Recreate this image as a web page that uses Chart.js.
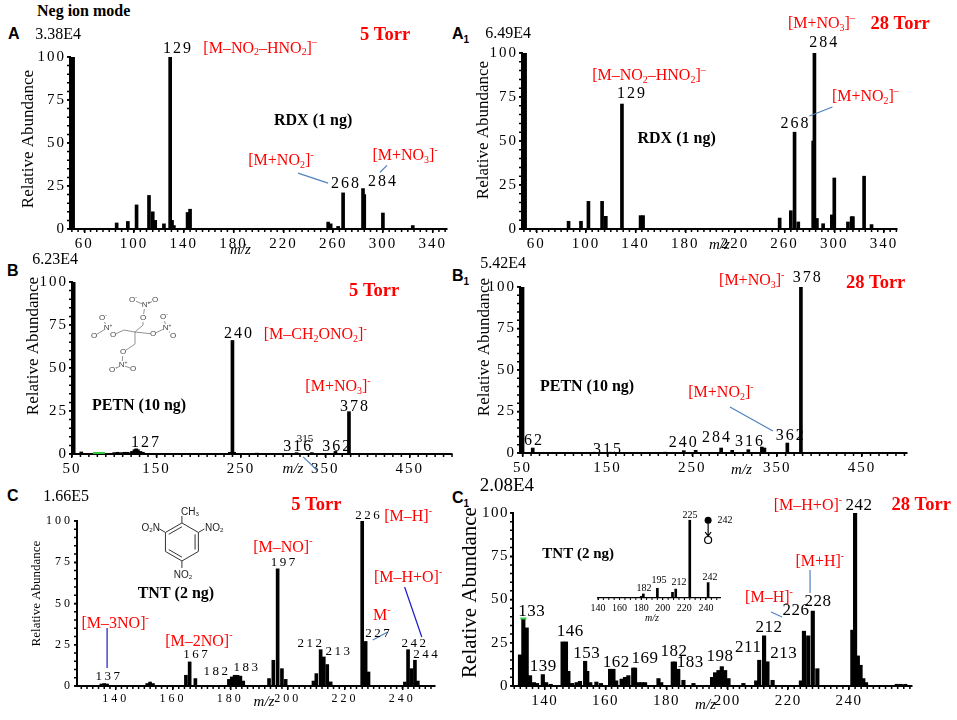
<!DOCTYPE html>
<html>
<head>
<meta charset="utf-8">
<script src="https://cdn.jsdelivr.net/npm/chart.js@4.4.1/dist/chart.umd.min.js"></script>
<style>
  body { margin: 0; width: 957px; height: 720px; overflow: hidden; position: relative; background: #fff; }
  canvas { position: absolute; }
  .tag { position: absolute; font: bold 16px "Liberation Sans", Arial, sans-serif; line-height: 16px; }
  .tag sub { font-size: 10px; }
  #neg { position: absolute; left: 37px; top: 3px; font: bold 16px "Liberation Serif", serif; line-height: 16px; }
</style>
</head>
<body>
<div id="neg">Neg ion mode</div>
<div class="tag" style="left:8px;top:26px">A</div>
<div class="tag" style="left:452px;top:26px">A<sub>1</sub></div>
<div class="tag" style="left:7px;top:263px">B</div>
<div class="tag" style="left:452px;top:268px">B<sub>1</sub></div>
<div class="tag" style="left:7px;top:488px">C</div>
<div class="tag" style="left:452px;top:490px">C<sub>1</sub></div>
<script>
// tick labels
const yTicks = [0, 25, 50, 75, 100];
const ticksRDX = [60, 100, 140, 180, 220, 260, 300, 340];
const ticksPETN = [50, 150, 250, 350, 450];
const ticksTNT = [140, 160, 180, 200, 220, 240];

// peaks: [m/z, relative abundance %]
const peaksA = [[49, 100], [50, 100], [51, 100], [86, 3.5], [95, 4.4], [102, 14], [112, 19.5], [115, 10], [117, 5],
  [124, 3], [129, 100], [130.5, 5], [132, 2], [143, 9.6], [145, 11.5], [256, 4], [258, 3], [264, 1.5], [268, 21],
  [284, 23.5], [285, 20], [300, 9.3], [324, 2]];
const peaksA1 = [[49, 100], [50, 100], [51, 100], [86, 4.4], [96, 4.4], [102, 15.7], [113, 15.7], [116, 7.2], [129, 71],
  [144, 7.6], [146, 7.6], [256, 6.2], [265, 10.4], [268, 55], [271, 4], [283, 50], [284, 100], [286, 6], [291, 3],
  [298, 8], [300, 29], [311, 4], [314, 7], [315, 7], [324, 30], [330, 2.5]];
const peaksB = [[50, 100], [51, 100], [52, 100], [61, 1.2], [100, 0.8], [104, 1], [108, 0.8], [112, 1], [116, 1],
  [121, 1.5], [124, 2.5], [126, 3], [128, 2.5], [131, 1.5], [134, 1], [237, 1], [240, 66], [242, 1], [269, 0.5],
  [316, 0.8], [334, 0.8], [362, 1.5], [378, 24.6]];
const peaksB1 = [[48, 100], [49, 100], [50, 100], [62, 3], [153, 0.5], [218, 0.5], [240, 1.4], [254, 1.6], [284, 3],
  [297, 1.6], [316, 2], [332, 3.6], [335, 3], [362, 6], [378, 100]];
const peaksC = [[135, 1.2], [136, 1.5], [137, 1.2], [151, 1.5], [152, 2.4], [153, 1.5], [164.5, 6.5], [165.8, 14.6],
  [167.8, 4.5], [179.5, 4], [180.5, 5.5], [181.5, 6.5], [182.5, 6.5], [183.5, 6], [184.5, 3], [193.5, 4.5], [195, 15.6],
  [196.5, 71], [198, 10.5], [199.3, 4], [209, 3], [210, 7.5], [211.5, 22], [212.6, 17.6], [213.8, 13], [215, 2.5],
  [226, 100], [227.2, 27], [228.2, 8.5], [240.9, 2.4], [242, 22], [243.2, 10.5], [244.4, 15.6], [245.4, 3]];
const peaksC1 = [[131.9, 18], [133, 38.7], [134.1, 33.6], [135.2, 6], [136.5, 2], [137.5, 1.5], [139.4, 6.6], [140.5, 2],
  [142, 1], [145.9, 25.5], [147, 25.5], [147.8, 8.5], [149, 1.5], [150.5, 2], [151.6, 2.7], [153.3, 14.3], [154, 8.5],
  [155, 2], [157, 2.3], [158.5, 1.5], [161.5, 9.7], [162.6, 9.7], [163.5, 3], [165.3, 4], [166.4, 5], [167.5, 6],
  [169.1, 10.4], [169.7, 10.4], [171, 2], [172, 2], [173, 2], [177.4, 4.3], [178.3, 2], [182.1, 13.9], [182.8, 13.9],
  [183.9, 9.7], [185.6, 3.3], [188.9, 1.5], [195, 5], [196, 7.7], [197.1, 9], [198.2, 11.2], [199.3, 9], [200.4, 4.3],
  [205.3, 1.5], [209.5, 3], [210.5, 14.9], [212.1, 29], [213.2, 14], [214.9, 3.3], [224.2, 3], [225.2, 31.7],
  [226.6, 29], [228.1, 43.3], [229.6, 10], [241.1, 32.3], [242, 100], [242.9, 17.4], [243.8, 12], [244.7, 4.3],
  [245.6, 2], [255.7, 1], [257, 1], [258.5, 1]];
const peaksInset = [[180, 2], [182, 5], [195, 12], [209, 7], [212, 11], [225, 96], [242, 19]];

const SERIF = '"Liberation Serif", "Times New Roman", serif';
const SANS = '"Liberation Sans", Arial, sans-serif';
const RED = '#ff0000';
const BLUE = '#4f81bd';
const DARKBLUE = '#1a1acc';

function font(size, weight, family, italic) {
  return (italic ? 'italic ' : '') + (weight || 'normal') + ' ' + size + 'px ' + (family || SERIF);
}

// text with _x subscripts and ^x superscripts
function rich(ctx, str, x, y, st, align) {
  const parts = [];
  const re = /([_^])(.)|([^_^]+)/g;
  let m;
  while ((m = re.exec(str))) {
    if (m[3]) parts.push({ t: m[3], s: st.size, dy: 0 });
    else parts.push({ t: m[2], s: st.size * 0.62, dy: m[1] === '_' ? st.size * 0.28 : -st.size * 0.36 });
  }
  ctx.letterSpacing = (st.spacing || 0) + 'px';
  let w = 0;
  for (const p of parts) {
    ctx.font = font(p.s, st.weight, st.family);
    p.w = ctx.measureText(p.t).width;
    w += p.w;
  }
  let cx = align === 'left' ? x : align === 'right' ? x - w : x - w / 2;
  ctx.fillStyle = st.color || '#000';
  ctx.textAlign = 'left';
  ctx.textBaseline = 'middle';
  for (const p of parts) {
    ctx.font = font(p.s, st.weight, st.family);
    ctx.fillText(p.t, cx, y + p.dy);
    cx += p.w;
  }
}

function styles(numSize, numSpace, ionSize, boldSize, intSize) {
  return {
    num: { size: numSize, spacing: numSpace, color: '#000' },
    ion: { size: ionSize, color: RED },
    bold: { size: boldSize, weight: 'bold', color: '#000' },
    torr: { size: 18.5, weight: 'bold', color: RED },
    int: { size: intSize, color: '#000' },
    small: { size: 11, color: '#000' },
    chem: { size: 8, color: '#444', family: SANS },
    chem2: { size: 10, color: '#222', family: SANS },
  };
}

function drawPETN(ctx, cx, cy, st) {
  const arms = [
    [[8, -7], [8, -14], [10, -27], [[-2, -32], [20, -32]]],
    [[10, 1], [18, 2], [31, -4], [[29, -15], [38, 4]]],
    [[-11, -2], [-22, 3], [-28, -4], [[-32, -14], [-41, 4]]],
    [[0, 12], [-12, 20], [-13, 33], [[-22, 38], [-2, 37]]],
  ];
  ctx.strokeStyle = '#777';
  ctx.lineWidth = 0.8;
  ctx.beginPath();
  for (const [c, o, n, ends] of arms) {
    ctx.moveTo(cx, cy);
    ctx.lineTo(cx + c[0], cy + c[1]);
    ctx.lineTo(cx + o[0], cy + o[1]);
    ctx.lineTo(cx + n[0], cy + n[1]);
    for (const e of ends) { ctx.moveTo(cx + n[0], cy + n[1]); ctx.lineTo(cx + e[0], cy + e[1]); }
  }
  ctx.stroke();
  ctx.fillStyle = '#fff';
  for (const [, o, n, ends] of arms) {
    for (const p of [o, n, ...ends]) ctx.fillRect(cx + p[0] - 3, cy + p[1] - 4, 6, 8);
  }
  for (const [, o, n, ends] of arms) {
    rich(ctx, 'O', cx + o[0], cy + o[1], st);
    rich(ctx, 'N^+', cx + n[0] + 1, cy + n[1], st);
    rich(ctx, 'O^-', cx + ends[0][0], cy + ends[0][1], st);
    rich(ctx, 'O', cx + ends[1][0], cy + ends[1][1], st);
  }
}

function drawTNT(ctx, cx, cy, st) {
  const r = 19, pts = [];
  for (let i = 0; i < 6; i++) {
    const a = -Math.PI / 2 + i * Math.PI / 3;
    pts.push([cx + r * Math.cos(a), cy + r * Math.sin(a)]);
  }
  ctx.strokeStyle = '#333';
  ctx.lineWidth = 1;
  ctx.beginPath();
  pts.forEach((p, i) => (i ? ctx.lineTo(p[0], p[1]) : ctx.moveTo(p[0], p[1])));
  ctx.closePath();
  for (const [i, j] of [[1, 2], [3, 4], [5, 0]]) {
    const a = pts[i], b = pts[j], k = 0.8;
    ctx.moveTo(cx + (a[0] - cx) * k, cy + (a[1] - cy) * k);
    ctx.lineTo(cx + (b[0] - cx) * k, cy + (b[1] - cy) * k);
  }
  const ext = (p, dx, dy) => { ctx.moveTo(p[0], p[1]); ctx.lineTo(p[0] + dx, p[1] + dy); };
  ext(pts[0], 0, -7);
  ext(pts[1], 6, -3.5);
  ext(pts[5], -6, -3.5);
  ext(pts[3], 0, 7);
  ctx.stroke();
  rich(ctx, 'CH_3', cx + 8, cy - 30, st);
  rich(ctx, 'O_2N', cx - 22, cy - 14, st, 'right');
  rich(ctx, 'NO_2', cx + 23, cy - 14, st, 'left');
  rich(ctx, 'NO_2', cx + 1, cy + 33, st);
}

// labels, leader lines, minor ticks, axis titles
function decor(cfg) {
  return {
    id: 'decor',
    beforeDraw(chart) { chart.ctx.letterSpacing = cfg.tickSpacing + 'px'; },
    afterDraw(chart) {
      const { ctx, chartArea: a, scales: { x, y } } = chart;
      const X = v => x.getPixelForValue(v);
      const Y = v => y.getPixelForValue(v);
      ctx.save();
      ctx.strokeStyle = '#000';
      ctx.lineWidth = cfg.inset ? 1 : 1.5;
      ctx.beginPath();
      for (let v = Math.ceil(x.min / cfg.minor) * cfg.minor; v <= x.max; v += cfg.minor) {
        ctx.moveTo(X(v), a.bottom);
        ctx.lineTo(X(v), a.bottom + (cfg.inset ? 2 : 3));
      }
      if (!cfg.inset) {
        for (let v = 0; v <= 100; v += 5) { ctx.moveTo(a.left, Y(v)); ctx.lineTo(a.left - 3, Y(v)); }
      }
      ctx.stroke();

      for (const l of cfg.lines || []) {
        ctx.strokeStyle = l[4] || BLUE;
        ctx.lineWidth = l[5] || 1.2;
        ctx.beginPath();
        ctx.moveTo(X(l[0]), Y(l[1]));
        ctx.lineTo(X(l[2]), Y(l[3]));
        ctx.stroke();
      }
      for (const t of cfg.texts) rich(ctx, t[0], X(t[1]), Y(t[2]), cfg.st[t[3]], t[4] || 'center');

      ctx.letterSpacing = '0px';
      ctx.fillStyle = '#000';
      ctx.textAlign = 'center';
      ctx.textBaseline = 'middle';
      if (cfg.yTitle) {
        ctx.save();
        ctx.translate(a.left + cfg.yTitle[0], (a.top + a.bottom) / 2 + cfg.yTitle[1]);
        ctx.rotate(-Math.PI / 2);
        ctx.font = font(cfg.yTitle[2]);
        ctx.fillText('Relative Abundance', 0, 0);
        ctx.restore();
      }
      ctx.font = font(cfg.xTitle[2], 'normal', SERIF, true);
      ctx.fillText('m/z', (a.left + a.right) / 2 + cfg.xTitle[0], a.bottom + cfg.xTitle[1]);

      if (cfg.extra) cfg.extra(ctx, X, Y, cfg.st);
      ctx.restore();
      ctx.letterSpacing = '0px';
    }
  };
}

function panel(cfg) {
  const [L, T, W, H] = cfg.box;
  const [aL, aT, aR, aB] = cfg.area;
  const cv = document.createElement('canvas');
  cv.width = W;
  cv.height = H;
  cv.style.left = L + 'px';
  cv.style.top = T + 'px';
  document.body.appendChild(cv);
  const wy = aL - L, hx = T + H - aB;
  return new Chart(cv, {
    type: 'bar',
    data: {
      datasets: [{
        data: cfg.peaks.map(([mz, ab]) => ({ x: mz, y: ab })),
        backgroundColor: '#000',
        borderWidth: 0,
        barThickness: cfg.bar || 3,
      }],
    },
    options: {
      responsive: false,
      animation: false,
      events: [],
      layout: { padding: { left: 0, top: aT - T, right: L + W - aR, bottom: 0 } },
      plugins: { legend: { display: false }, tooltip: { enabled: false } },
      scales: {
        x: {
          type: 'linear',
          min: cfg.xr[0],
          max: cfg.xr[1],
          offset: false,
          afterBuildTicks: s => { s.ticks = cfg.ticks.map(v => ({ value: v })); },
          afterFit: s => { s.height = hx; s.paddingLeft = 0; s.paddingRight = 0; },
          grid: { drawOnChartArea: false, offset: false, color: '#000', lineWidth: cfg.inset ? 1 : 1.5, tickLength: cfg.inset ? 2 : 4 },
          border: { color: '#000', width: cfg.inset ? 1.2 : 2 },
          ticks: { autoSkip: false, maxRotation: 0, color: '#000', padding: 2, font: { family: SERIF, size: cfg.tick[0] } },
        },
        y: {
          display: !cfg.inset,
          min: 0,
          max: 100,
          afterBuildTicks: s => { s.ticks = yTicks.map(v => ({ value: v })); },
          afterFit: s => { s.width = wy; s.paddingTop = 0; s.paddingBottom = 0; },
          grid: { drawOnChartArea: false, color: '#000', lineWidth: 1.5, tickLength: 3 },
          border: { color: '#000', width: 2 },
          ticks: { color: '#000', padding: 1, font: { family: SERIF, size: cfg.tick[1] } },
        },
      },
    },
    plugins: [decor(cfg)],
  });
}

// A: RDX 5 Torr
panel({
  box: [0, 0, 478, 258], area: [70, 57, 447, 229], xr: [48.5, 351.5], ticks: ticksRDX, peaks: peaksA,
  minor: 5, tick: [15, 15], tickSpacing: 2, st: styles(16, 2, 16, 16, 16),
  yTitle: [-41, -4, 17], xTitle: [-18, 21, 15],
  texts: [
    ['3.38E4', 39, 112.8, 'int'],
    ['129', 135.4, 105, 'num'],
    ['[M–NO_2–HNO_2]^–', 201.3, 105, 'ion'],
    ['5 Torr', 301.7, 112.8, 'torr'],
    ['RDX (1 ng)', 243.9, 62.8, 'bold'],
    ['[M+NO_2]^-', 218, 39.5, 'ion'],
    ['[M+NO_3]^-', 317.8, 42.4, 'ion'],
    ['268', 270.4, 26, 'num'],
    ['284', 300, 27.3, 'num'],
  ],
  lines: [[231.8, 32.5, 255.9, 26.7], [297.7, 33, 303.3, 37]],
});

// A1: RDX 28 Torr
panel({
  box: [462, 0, 495, 258], area: [522, 53, 897, 229], xr: [48.5, 350.5], ticks: ticksRDX, peaks: peaksA1,
  minor: 5, tick: [15, 15], tickSpacing: 2, st: styles(16, 2, 16, 16, 16),
  yTitle: [-38, -11, 17], xTitle: [10, 16, 15],
  texts: [
    ['6.49E4', 37.4, 111, 'int'],
    ['[M+NO_3]^–', 289.6, 116.5, 'ion'],
    ['28 Torr', 353, 116.5, 'torr'],
    ['284', 292, 105.7, 'num'],
    ['[M–NO_2–HNO_2]^–', 150.7, 87, 'ion'],
    ['129', 137, 76.7, 'num'],
    ['RDX (1 ng)', 173, 51, 'bold'],
    ['[M+NO_2]^–', 325, 75, 'ion'],
    ['268', 268.8, 59.7, 'num'],
  ],
  lines: [[280, 64.2, 298.5, 69.3]],
});

// B: PETN 5 Torr
panel({
  box: [0, 245, 478, 241], area: [72, 282, 452, 454], xr: [50, 500], ticks: ticksPETN, peaks: peaksB,
  minor: 10, tick: [15, 15], tickSpacing: 2, st: styles(16, 2, 16, 16, 16),
  yTitle: [-38, -22, 17], xTitle: [31, 15, 15],
  texts: [
    ['6.23E4', 29.9, 112.8, 'int'],
    ['240', 247.9, 69.8, 'num'],
    ['[M–CH_2ONO_2]^-', 338, 69.2, 'ion'],
    ['5 Torr', 407.8, 94.8, 'torr'],
    ['[M+NO_3]^-', 365, 39, 'ion'],
    ['378', 385, 27.3, 'num'],
    ['PETN (10 ng)', 129.4, 28, 'bold'],
    ['127', 137.7, 6.4, 'num'],
    ['316', 317.8, 4, 'num'],
    ['315', 326, 8.5, 'small'],
    ['362', 364, 4, 'num'],
  ],
  lines: [[323.7, -1.7, 340, -9.3], [75, 0.6, 89, 0.6, '#2ecc40', 2]],
  extra: (ctx, X, Y, st) => drawPETN(ctx, X(124.6), Y(70.9), st.chem),
});

// B1: PETN 28 Torr
panel({
  box: [462, 245, 495, 241], area: [520, 287, 907, 453], xr: [47, 503], ticks: ticksPETN, peaks: peaksB1,
  minor: 10, tick: [15, 15], tickSpacing: 2, st: styles(16, 2, 16, 16, 16),
  yTitle: [-35, -23, 17], xTitle: [28, 17, 15],
  texts: [
    ['5.42E4', 27, 113.9, 'int'],
    ['[M+NO_3]^-', 320, 103.6, 'ion'],
    ['378', 386, 105.4, 'num'],
    ['28 Torr', 466, 102.4, 'torr'],
    ['PETN (10 ng)', 126, 39.8, 'bold'],
    ['[M+NO_2]^-', 283.7, 36.1, 'ion'],
    ['362', 366, 10.2, 'num'],
    ['62', 63.5, 7.2, 'num'],
    ['315', 150.6, 2, 'num'],
    ['240', 240, 6, 'num'],
    ['284', 279, 9, 'num'],
    ['316', 318, 6.6, 'num'],
  ],
  lines: [[294.4, 27.7, 345, 13.3]],
});

// C: TNT 5 Torr
panel({
  box: [0, 478, 478, 242], area: [77, 521, 435, 686], xr: [126.5, 251.4], ticks: ticksTNT, peaks: peaksC,
  minor: 2, tick: [12, 12], tickSpacing: 3, st: styles(13, 2.5, 16, 16, 16),
  yTitle: [-40, -10, 13], xTitle: [8, 16, 15],
  texts: [
    ['1.66E5', 122.7, 114.5, 'int'],
    ['5 Torr', 210, 109.7, 'torr'],
    ['226', 228.3, 103, 'num'],
    ['[M–H]^-', 242, 102.4, 'ion'],
    ['[M–NO]^-', 198.3, 84, 'ion'],
    ['197', 198.8, 74.5, 'num'],
    ['[M–H+O]^-', 242, 65.5, 'ion'],
    ['M^-', 232.8, 42.4, 'ion'],
    ['227', 231.8, 31.5, 'num'],
    ['242', 244.4, 26, 'num'],
    ['244', 248.5, 18.8, 'num'],
    ['212', 208.1, 25.5, 'num'],
    ['213', 217.9, 20.6, 'num'],
    ['[M–2NO]^-', 169, 27, 'ion'],
    ['167', 168.3, 18.8, 'num'],
    ['182', 175.3, 8.5, 'num'],
    ['183', 185.8, 10.9, 'num'],
    ['[M–3NO]^-', 139.8, 37.6, 'ion'],
    ['137', 137.7, 5.5, 'num'],
    ['TNT (2 ng)', 161, 55.8, 'bold'],
  ],
  lines: [[229.7, 27.9, 234.9, 32.7], [240.8, 60, 246.8, 29.7, DARKBLUE], [137, 35.2, 137, 10.9, DARKBLUE]],
  extra: (ctx, X, Y, st) => drawTNT(ctx, X(163.1), Y(87.3), st.chem2),
});

// C1: TNT 28 Torr
panel({
  box: [452, 470, 505, 250], area: [513, 513, 912, 686], xr: [129.6, 260.7], ticks: ticksTNT, peaks: peaksC1,
  minor: 2, tick: [15, 15], tickSpacing: 1.5, bar: 3.5, st: styles(17, 0.5, 16, 15, 19),
  yTitle: [-43, -7, 21], xTitle: [-7, 19, 15],
  texts: [
    ['2.08E4', 127.6, 115.6, 'int'],
    ['[M–H+O]^-', 226.5, 104, 'ion'],
    ['242', 243.3, 104.6, 'num'],
    ['28 Torr', 263.7, 104.6, 'torr'],
    ['[M+H]^-', 230.4, 71.7, 'ion'],
    ['228', 229.8, 48.6, 'num'],
    ['[M–H]^-', 213.7, 50.9, 'ion'],
    ['226', 222.6, 43.4, 'num'],
    ['212', 213.7, 34, 'num'],
    ['213', 218.6, 19, 'num'],
    ['211', 206.9, 22.5, 'num'],
    ['198', 197.6, 16.8, 'num'],
    ['182', 182.5, 20.2, 'num'],
    ['183', 187.8, 13.3, 'num'],
    ['169', 173, 15.6, 'num'],
    ['162', 163.5, 13.3, 'num'],
    ['153', 153.8, 18.5, 'num'],
    ['146', 148.4, 31.2, 'num'],
    ['139', 139.5, 11, 'num'],
    ['133', 135.8, 42.8, 'num'],
    ['TNT (2 ng)', 151, 76.3, 'bold'],
  ],
  lines: [[227.2, 67, 227.2, 53.8], [214.4, 42.8, 218, 39.9], [132, 39, 134, 39, '#2ecc40', 2]],
});

// C1 inset: MS/MS of 242
panel({
  inset: true,
  box: [560, 490, 200, 140], area: [598, 517, 720, 598], xr: [140, 253], ticks: ticksTNT, peaks: peaksInset,
  minor: 5, tick: [10, 10], tickSpacing: 0, bar: 2, st: styles(10, 0, 10, 10, 10),
  yTitle: null, xTitle: [-7, 20, 10],
  texts: [
    ['225', 225.2, 102.5, 'num'],
    ['242', 257.6, 96, 'num'],
    ['182', 182.6, 12.3, 'num'],
    ['195', 196.5, 22, 'num'],
    ['212', 215, 19.8, 'num'],
    ['242', 243.7, 26, 'num'],
  ],
  extra: (ctx, X, Y) => {
    const px = X(242), top = Y(96), bot = Y(71.6);
    ctx.strokeStyle = '#000';
    ctx.fillStyle = '#000';
    ctx.lineWidth = 1.2;
    ctx.beginPath();
    ctx.arc(px, top, 3.5, 0, Math.PI * 2);
    ctx.fill();
    ctx.beginPath();
    ctx.moveTo(px, top);
    ctx.lineTo(px, bot - 3.5);
    ctx.moveTo(px - 3, bot - 8);
    ctx.lineTo(px, bot - 4);
    ctx.lineTo(px + 3, bot - 8);
    ctx.stroke();
    ctx.beginPath();
    ctx.arc(px, bot, 3.5, 0, Math.PI * 2);
    ctx.stroke();
  },
});
</script>
</body>
</html>
